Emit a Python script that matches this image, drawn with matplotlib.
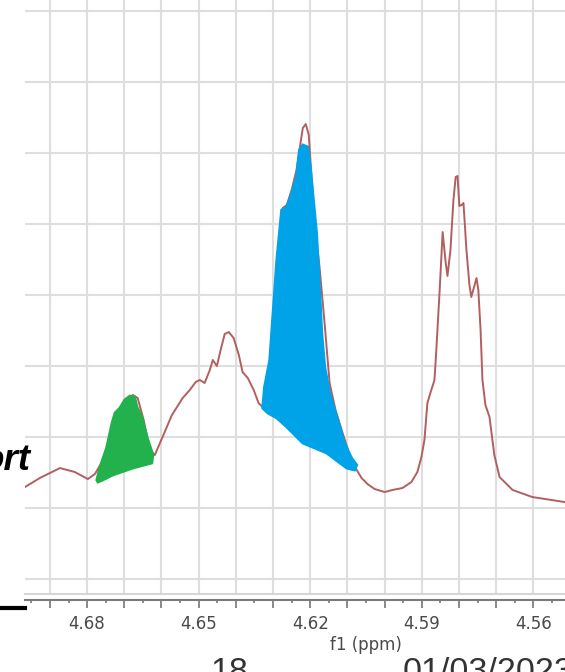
import matplotlib.pyplot as plt
import matplotlib.ticker as mticker
from matplotlib.lines import Line2D

# spectrum trace (f1 in ppm, intensity in arbitrary units)
ppm = [4.6967, 4.6927, 4.6873, 4.6833, 4.6798, 4.6779, 4.6760, 4.6739, 4.6717, 4.6696,
       4.6677, 4.6664, 4.6648, 4.6631, 4.6618, 4.6596, 4.6572, 4.6543, 4.6524, 4.6508,
       4.6497, 4.6484, 4.6470, 4.6462, 4.6451, 4.6441, 4.6430, 4.6419, 4.6406, 4.6392,
       4.6382, 4.6368, 4.6352, 4.6339, 4.6328, 4.6317, 4.6309, 4.6296, 4.6282, 4.6274,
       4.6263, 4.6250, 4.6237, 4.6229, 4.6220, 4.6212, 4.6204, 4.6196, 4.6186, 4.6175,
       4.6161, 4.6148, 4.6132, 4.6113, 4.6094, 4.6075, 4.6062, 4.6046, 4.6027, 4.6000,
       4.5979, 4.5952, 4.5928, 4.5912, 4.5901, 4.5893, 4.5885, 4.5877, 4.5866, 4.5861,
       4.5852, 4.5844, 4.5836, 4.5831, 4.5823, 4.5815, 4.5809, 4.5804, 4.5799, 4.5793,
       4.5788, 4.5780, 4.5772, 4.5767, 4.5758, 4.5753, 4.5748, 4.5742, 4.5737, 4.5729,
       4.5718, 4.5705, 4.5691, 4.5656, 4.5603, 4.5517]
intensity = [1.296, 1.423, 1.563, 1.507, 1.408, 1.479, 1.648, 1.958, 2.310, 2.521,
             2.592, 2.549, 2.239, 1.817, 1.746, 2.014, 2.310, 2.549, 2.662, 2.775,
             2.803, 2.761, 2.944, 3.085, 3.000, 3.225, 3.451, 3.479, 3.394, 3.155,
             2.915, 2.831, 2.662, 2.479, 2.423, 2.690, 3.042, 3.930, 4.634, 5.225,
             5.268, 5.479, 5.761, 6.042, 6.352, 6.408, 6.254, 5.620, 4.915, 4.394,
             3.577, 2.761, 2.380, 2.056, 1.746, 1.535, 1.423, 1.338, 1.268, 1.225,
             1.254, 1.282, 1.366, 1.507, 1.718, 1.958, 2.479, 2.620, 2.803, 3.225,
             4.070, 4.887, 4.465, 4.268, 4.634, 5.338, 5.662, 5.676, 5.254, 5.268,
             5.296, 4.634, 4.141, 3.972, 4.141, 4.239, 4.070, 3.507, 2.803, 2.451,
             2.282, 1.746, 1.437, 1.254, 1.155, 1.085]

# hand-coloured regions drawn over the spectrum
green_ppm = [4.6774, 4.6766, 4.6747, 4.6733, 4.6725, 4.6712, 4.6699, 4.6685, 4.6672,
             4.6666, 4.6653, 4.6639, 4.6623, 4.6626, 4.6677, 4.6731, 4.6758, 4.6771]
green_int = [1.394, 1.563, 1.859, 2.197, 2.338, 2.408, 2.521, 2.577, 2.563,
             2.423, 2.282, 2.000, 1.746, 1.634, 1.563, 1.465, 1.394, 1.366]
blue_ppm = [4.6328, 4.6323, 4.6309, 4.6290, 4.6277, 4.6263, 4.6250, 4.6237, 4.6229,
            4.6220, 4.6207, 4.6199, 4.6194, 4.6183, 4.6175, 4.6169, 4.6161, 4.6148,
            4.6126, 4.6108, 4.6089, 4.6075, 4.6081, 4.6102, 4.6156, 4.6220, 4.6263,
            4.6290, 4.6314]
blue_int = [2.408, 2.704, 3.085, 4.493, 5.197, 5.239, 5.437, 5.662, 6.042,
            6.113, 6.085, 5.761, 5.479, 4.873, 4.113, 3.465, 2.986, 2.620,
            2.239, 1.915, 1.704, 1.606, 1.535, 1.563, 1.775, 1.915, 2.141,
            2.268, 2.338]

fig = plt.figure(figsize=(5.65, 6.72), dpi=100)
ax = fig.add_axes([25 / 565, 78 / 672, 540 / 565, 594 / 672])

ax.plot(ppm, intensity, color='#b25f5f', lw=1.4, zorder=3)
ax.fill(green_ppm, green_int, color='#22b14c', ec='#22b14c', lw=2, zorder=4)
ax.fill(blue_ppm, blue_int, color='#00a2e8', ec='#00a2e8', lw=2, zorder=4)

ax.set_xlim(4.6967, 4.5515)
ax.set_ylim(-0.211, 8.155)

# grid + axis styling (MestReNova look)
ax.xaxis.set_major_locator(mticker.MultipleLocator(0.01))
ax.xaxis.set_minor_locator(mticker.MultipleLocator(0.005))
ax.yaxis.set_major_locator(mticker.MultipleLocator(1))
ax.xaxis.set_major_formatter(mticker.FuncFormatter(
    lambda v, p: '%.2f' % v if round(v * 100) % 3 == 0 else ''))
ax.grid(True, color='#dedede', lw=1.5)
ax.set_axisbelow(True)

for s in ['top', 'left', 'right']:
    ax.spines[s].set_visible(False)
ax.spines['bottom'].set_position(('outward', 4.3))
ax.spines['bottom'].set_color('#7a7a7a')
ax.spines['bottom'].set_linewidth(1.5)
ax.axhline(-0.211, color='#d6d6d6', lw=1.5, clip_on=False)

ax.tick_params(axis='y', left=False, labelleft=False)
ax.tick_params(axis='x', which='major', length=5.8, width=1.1, color='#6a6a6a',
               labelsize=12, labelcolor='#4a4a4a', pad=5)
ax.tick_params(axis='x', which='minor', length=2.2, width=1.1, color='#6a6a6a')

ax.set_xlabel('f1 (ppm)', fontsize=12, color='#4a4a4a')
ax.xaxis.set_label_coords(0.6315, -0.0859)
ax.xaxis.label.set_va('center')

# slide leftovers around the screenshot
fig.text(31 / 565, 1 - 470 / 672, 'ort', fontsize=26.5, fontweight='bold',
         fontstyle='italic', family='Liberation Sans', ha='right', va='baseline')
fig.text(210 / 565, 1 - 657 / 672, '18', fontsize=24.5, family='Liberation Sans',
         color='#333333', ha='left', va='top')
fig.text(403 / 565, 1 - 657 / 672, '01/03/2023', fontsize=24.5, family='Liberation Sans',
         color='#333333', ha='left', va='top')
fig.add_artist(Line2D([0, 25 / 565], [1 - 608 / 672] * 2, color='black', lw=3))

plt.savefig('out.png', dpi=100)
